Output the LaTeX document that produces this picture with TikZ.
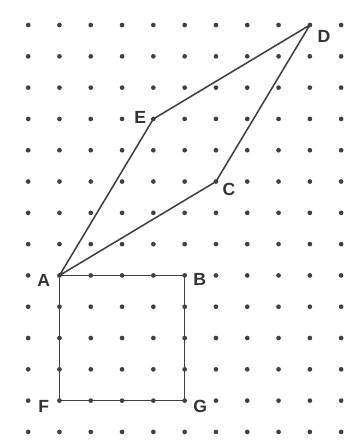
\documentclass[tikz,border=0pt]{standalone}
\usepackage{fontspec}
\setmainfont{Liberation Sans}
\begin{document}
\begin{tikzpicture}[x=1cm,y=1cm,
  gdot/.style={fill=black!75,draw=none},
  edge/.style={draw=black!75,line width=1.4pt},
  lbl/.style={font=\bfseries\fontsize{16}{16}\selectfont,text=black!80,inner sep=0pt}]
\useasboundingbox[fill=white] (-0.9,0.8) rectangle (10.13,-13.45);
\foreach \i in {0,...,10}{\foreach \j in {0,...,13}{\fill[gdot] (\i,-\j) circle (0.075);}}
\coordinate (A) at (1,-8);
\coordinate (B) at (5,-8);
\coordinate (F) at (1,-12);
\coordinate (G) at (5,-12);
\coordinate (C) at (6,-5);
\coordinate (E) at (4,-3);
\coordinate (D) at (9,0);
\draw[edge] (A) -- (B) -- (G) -- (F) -- cycle;
\draw[edge] (A) -- (C) -- (D) -- (E) -- cycle;
\node[lbl] (lA) at (0.5,-8.15) {A};
\node[lbl] (lB) at (5.48,-8.12) {B};
\node[lbl] (lC) at (6.42,-5.25) {C};
\node[lbl] (lD) at (9.45,-0.35) {D};
\node[lbl] (lE) at (3.58,-2.95) {E};
\node[lbl] (lF) at (0.5,-12.2) {F};
\node[lbl] (lG) at (5.5,-12.2) {G};
\end{tikzpicture}
\end{document}
